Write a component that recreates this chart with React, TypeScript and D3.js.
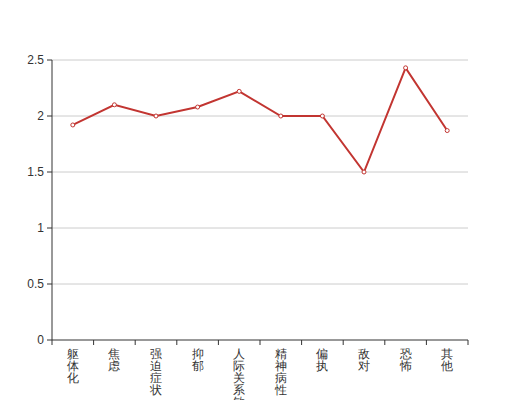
import React from "react";
import * as d3 from "d3";

const categories = ["躯体化", "焦虑", "强迫症状", "抑郁", "人际关系敏感", "精神病性", "偏执", "敌对", "恐怖", "其他"];
const values = [1.92, 2.1, 2.0, 2.08, 2.22, 2.0, 2.0, 1.5, 2.43, 1.87];
const yTicks = [0, 0.5, 1, 1.5, 2, 2.5];

const W = 520, H = 400;
const M = { left: 52, right: 52, top: 60, bottom: 60 };

export default function App() {
  const x = d3.scaleBand<string>().domain(categories).range([M.left, W - M.right]);
  const y = d3.scaleLinear().domain([0, 2.5]).range([H - M.bottom, M.top]);
  const line = d3
    .line<number>()
    .x((_, i) => (x(categories[i]) as number) + x.bandwidth() / 2)
    .y((d) => y(d));
  const font = "sans-serif";
  const boundaries = categories.map((c) => x(c) as number).concat([W - M.right]);
  return (
    <svg width={W} height={H} style={{ position: "absolute", left: 0, top: 0 }}>
      {yTicks.map((t) => (
        <g key={t}>
          {t > 0 && (
            <line x1={M.left} x2={W - M.right} y1={y(t)} y2={y(t)} stroke="#ccc" strokeWidth={1} />
          )}
          <line x1={M.left - 5} x2={M.left} y1={y(t)} y2={y(t)} stroke="#333" />
          <text x={M.left - 8} y={y(t)} dy="0.35em" textAnchor="end" fontSize={12} fill="#333" fontFamily={font}>
            {t}
          </text>
        </g>
      ))}
      <line x1={M.left} x2={M.left} y1={M.top} y2={H - M.bottom} stroke="#333" />
      <line x1={M.left} x2={W - M.right} y1={H - M.bottom} y2={H - M.bottom} stroke="#333" />
      {boundaries.map((b, i) => (
        <line key={i} x1={b} x2={b} y1={H - M.bottom} y2={H - M.bottom + 5} stroke="#333" />
      ))}
      {categories.map((c) => (
        <text key={c} fontSize={12} fill="#333" fontFamily={font} textAnchor="middle">
          {Array.from(c).map((ch, j) => (
            <tspan key={j} x={(x(c) as number) + x.bandwidth() / 2} y={H - M.bottom + 18 + j * 12}>
              {ch}
            </tspan>
          ))}
        </text>
      ))}
      <path d={line(values) || ""} fill="none" stroke="#c23531" strokeWidth={2} />
      {values.map((v, i) => (
        <circle
          key={i}
          cx={(x(categories[i]) as number) + x.bandwidth() / 2}
          cy={y(v)}
          r={2}
          fill="#fff"
          stroke="#c23531"
          strokeWidth={1}
        />
      ))}
    </svg>
  );
}
